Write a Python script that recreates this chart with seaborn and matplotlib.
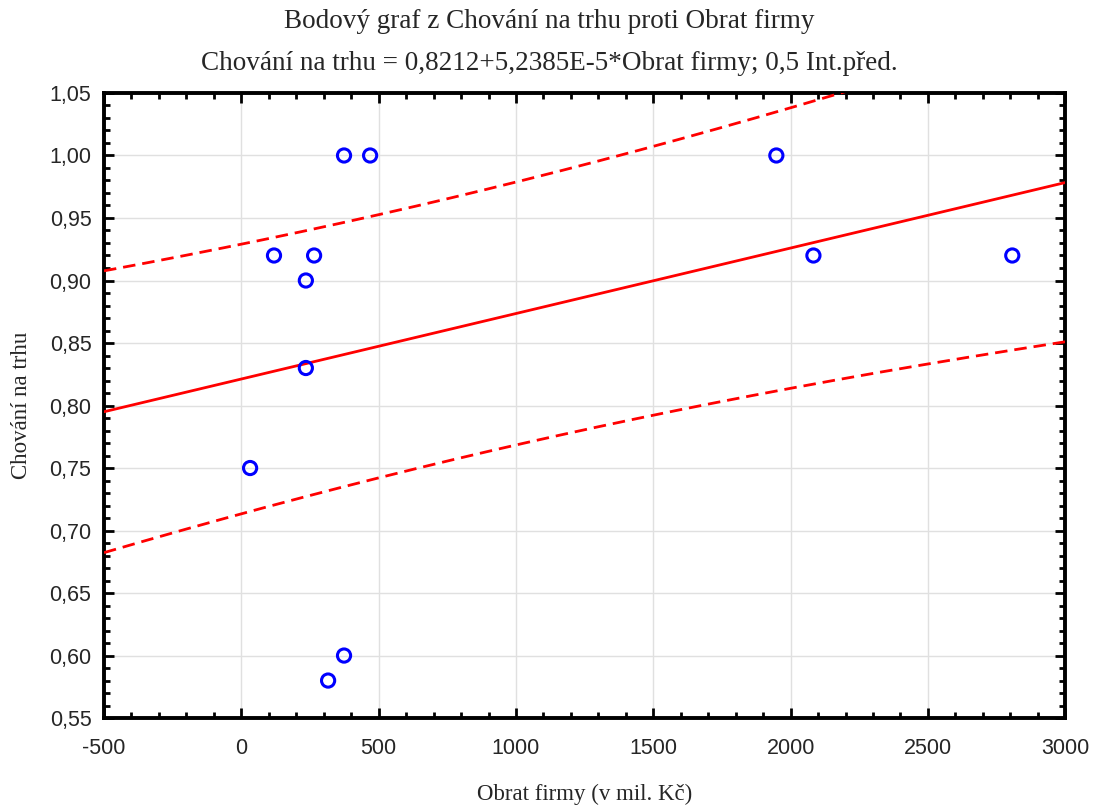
import numpy as np
import pandas as pd
import matplotlib
matplotlib.use("Agg")
import matplotlib.pyplot as plt
from matplotlib.ticker import MultipleLocator, FuncFormatter
import seaborn as sns

# Observed firms: turnover (mil. Kč) and market-behaviour score
obrat = [32, 119, 235, 235, 265, 316, 374, 374, 469, 1948, 2083, 2807]
chovani = [0.75, 0.92, 0.90, 0.83, 0.92, 0.58, 0.60, 1.00, 1.00, 1.00, 0.92, 0.92]

# Fitted line stated in the subtitle
intercept = 0.8212
slope = 5.2385e-5
# Student t quantile for a 0.5 prediction interval (df = n - 2 = 10)
t_q = 0.6998

x_ticks = [-500, 0, 500, 1000, 1500, 2000, 2500, 3000]
y_ticks = [0.55, 0.60, 0.65, 0.70, 0.75, 0.80, 0.85, 0.90, 0.95, 1.00, 1.05]

df = pd.DataFrame({"x": obrat, "y": chovani})

x = np.asarray(obrat, float)
y = np.asarray(chovani, float)
n = len(x)
resid = y - (intercept + slope * x)
s = np.sqrt(np.sum(resid ** 2) / (n - 2))
sxx = np.sum((x - x.mean()) ** 2)

grid_x = np.linspace(x_ticks[0], x_ticks[-1], 400)
fit = intercept + slope * grid_x
half = t_q * s * np.sqrt(1 + 1 / n + (grid_x - x.mean()) ** 2 / sxx)
band = pd.DataFrame({"x": grid_x, "fit": fit, "lo": fit - half, "hi": fit + half})

sns.set_theme(style="white")
plt.rcParams["font.family"] = ["Liberation Sans", "DejaVu Sans"]

fig = plt.figure(figsize=(10.98, 8.05), dpi=100)
ax = fig.add_axes([0.0947, 0.108, 0.8755, 0.7765])

ax.grid(True, which="major", color="#e0e0e0", linewidth=1.0)
ax.set_axisbelow(True)

sns.lineplot(data=band, x="x", y="fit", ax=ax, color="#ff0000", linewidth=2.0, zorder=3)
sns.lineplot(data=band, x="x", y="hi", ax=ax, color="#ff0000", linewidth=2.0,
             linestyle=(0, (4.5, 2.5)), zorder=3)
sns.lineplot(data=band, x="x", y="lo", ax=ax, color="#ff0000", linewidth=2.0,
             linestyle=(0, (4.5, 2.5)), zorder=3)
sns.scatterplot(data=df, x="x", y="y", ax=ax, marker="o", s=90,
                facecolors="none", edgecolor="#0000ff", linewidth=2.2, zorder=4)

ax.set_xlim(x_ticks[0], x_ticks[-1])
ax.set_ylim(y_ticks[0], y_ticks[-1])
ax.set_xticks(x_ticks)
ax.set_yticks(y_ticks)
ax.xaxis.set_minor_locator(MultipleLocator(100))
ax.yaxis.set_minor_locator(MultipleLocator(0.01))
ax.yaxis.set_major_formatter(FuncFormatter(lambda v, p: f"{v:.2f}".replace(".", ",")))
ax.xaxis.set_major_formatter(FuncFormatter(lambda v, p: f"{v:.0f}"))

ax.tick_params(which="both", direction="in", top=True, right=True,
               bottom=True, left=True, color="black")
ax.tick_params(which="major", length=7, width=2, labelsize=15.5)
ax.tick_params(axis="x", which="major", pad=14)
ax.tick_params(axis="y", which="major", pad=9)
ax.tick_params(which="minor", length=4, width=2)

for sp in ax.spines.values():
    sp.set_color("black")
    sp.set_linewidth(2.8)

serif = ["Liberation Serif", "DejaVu Serif"]
ax.set_xlabel("Obrat firmy (v mil. Kč)", family=serif, fontsize=16.5)
ax.xaxis.label.set_va("center")
ax.xaxis.set_label_coords(0.5, (718 - 794) / 625)
ax.set_ylabel("Chování na trhu", family=serif, fontsize=16.5)
ax.yaxis.label.set_va("center")
ax.yaxis.set_label_coords((22 - 104) / 961, 0.5)

fig.text(0.5, 1 - 21 / 805, "Bodový graf z Chování na trhu proti Obrat firmy",
         family=serif, fontsize=19.5, ha="center", va="center")
fig.text(0.5, 1 - 63 / 805,
         "Chování na trhu = 0,8212+5,2385E-5*Obrat firmy; 0,5 Int.před.",
         family=serif, fontsize=19.5, ha="center", va="center")

fig.savefig("out.png", dpi=100, facecolor="white")
